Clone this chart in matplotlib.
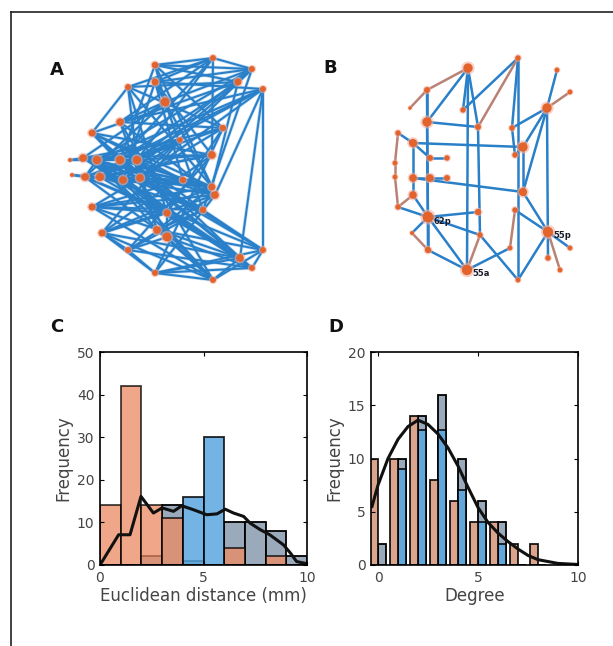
import matplotlib.pyplot as plt
from matplotlib.lines import Line2D
import numpy as np

W, H = 613, 646

# ---- network A (layout coordinates) ----
a_x = [155, 213, 252, 238, 263, 128, 155, 165, 120, 92, 223, 212, 83, 97, 120, 137, 85, 100,
       123, 140, 212, 215, 92, 203, 167, 157, 167, 102, 128, 240, 263, 252, 155, 213, 183, 180, 70, 72]
a_y = [65, 58, 69, 82, 89, 87, 82, 102, 122, 133, 128, 155, 158, 160, 160, 160, 177, 177,
       180, 178, 187, 195, 207, 210, 213, 230, 237, 233, 250, 258, 250, 268, 273, 280, 180, 140, 160, 175]
a_size = [22, 18, 18, 25, 18, 18, 25, 40, 28, 25, 20, 30, 30, 35, 35, 35, 30, 35,
          30, 30, 25, 30, 25, 20, 25, 30, 40, 25, 18, 30, 18, 18, 18, 18, 20, 15, 8, 8]
a_edges = [(0, 1), (0, 2), (0, 3), (0, 7), (0, 10), (0, 14), (0, 20),
           (1, 2), (1, 5), (1, 6), (1, 8), (1, 14), (1, 15), (1, 11),
           (2, 3), (2, 6), (2, 7), (2, 13), (2, 15), (2, 19), (2, 23),
           (3, 5), (3, 9), (3, 14), (3, 18), (3, 20),
           (4, 6), (4, 8), (4, 13), (4, 14), (4, 17), (4, 19), (4, 21), (4, 29), (4, 30),
           (5, 9), (5, 10), (5, 15), (5, 20), (5, 24),
           (6, 7), (6, 11), (6, 18), (6, 34),
           (7, 8), (7, 12), (7, 16), (7, 20), (7, 23),
           (8, 10), (8, 19), (8, 21), (8, 33),
           (9, 11), (9, 14), (9, 20), (9, 24), (9, 31),
           (10, 13), (10, 16), (10, 22), (10, 24), (10, 32),
           (11, 12), (11, 17), (11, 27), (11, 28),
           (12, 13), (12, 14), (12, 15), (12, 19), (12, 20), (12, 23), (12, 34),
           (13, 19), (13, 21), (13, 29), (13, 33),
           (14, 18), (14, 20), (14, 30), (14, 31),
           (15, 16), (15, 21), (15, 23), (15, 25), (15, 29),
           (16, 17), (16, 18), (16, 20), (16, 24), (16, 30), (16, 35),
           (17, 19), (17, 23), (17, 29), (17, 34),
           (18, 21), (18, 24), (18, 31), (18, 33), (18, 35),
           (19, 20), (19, 23), (19, 25), (19, 26), (19, 30),
           (20, 22), (20, 27), (20, 25),
           (21, 22), (21, 27), (21, 28), (21, 32),
           (22, 23), (22, 24), (22, 29), (22, 33),
           (23, 28), (23, 25), (23, 30),
           (24, 26), (24, 29), (24, 31), (24, 27),
           (25, 26), (25, 30), (25, 33),
           (26, 28), (26, 31), (26, 33),
           (27, 28), (27, 29), (27, 32), (27, 33),
           (28, 32), (28, 31), (29, 32), (29, 33),
           (30, 31), (30, 32), (30, 33), (31, 32), (32, 33),
           (34, 16), (34, 9), (34, 22), (35, 12), (35, 17), (35, 27),
           (36, 12), (37, 16), (36, 13), (37, 17),
           (12, 18), (13, 14), (14, 15), (16, 19), (17, 18), (13, 16), (14, 17), (15, 19),
           (12, 24), (13, 25), (16, 26), (17, 11), (18, 20), (15, 11)]

# ---- network B ----
b_x = [468, 518, 427, 557, 570, 547, 410, 463, 427, 478, 512, 398, 413, 523, 430, 447, 515, 395, 395,
       413, 430, 447, 523, 413, 398, 478, 515, 428, 412, 548, 480, 428, 570, 548, 467, 518, 560, 510]
b_y = [68, 58, 90, 70, 92, 108, 108, 110, 122, 127, 128, 133, 143, 147, 158, 158, 155, 163, 177,
       178, 178, 178, 192, 195, 207, 212, 210, 217, 233, 232, 235, 250, 248, 258, 270, 280, 270, 248]
b_size = [45, 15, 18, 12, 12, 45, 6, 15, 45, 18, 15, 15, 35, 45, 18, 15, 15, 12, 12,
          30, 30, 18, 35, 30, 15, 20, 15, 60, 8, 55, 15, 20, 12, 15, 55, 12, 12, 12]
b_edges = [(0, 34), (1, 35), (5, 33), (2, 31), (9, 30), (8, 27),
           (8, 9), (12, 13), (19, 22), (27, 25), (14, 15), (19, 20), (20, 21), (12, 14),
           (11, 12), (23, 24), (11, 17), (17, 18), (18, 24), (12, 19), (19, 23),
           (0, 2), (0, 7), (0, 9), (1, 7), (1, 10), (2, 8), (0, 8), (1, 9),
           (5, 4), (5, 3), (5, 10), (5, 13), (13, 16), (13, 22), (22, 29), (26, 29),
           (29, 32), (29, 36), (29, 35), (5, 22),
           (27, 28), (27, 31), (27, 34), (27, 30), (31, 34), (34, 30), (34, 37),
           (30, 35), (28, 31), (24, 27), (23, 27), (2, 6), (26, 37), (10, 16)]
b_brown = [(0, 2), (11, 17), (17, 18), (18, 24), (28, 31), (29, 36), (1, 9),
           (5, 4), (23, 24), (34, 30), (26, 37), (2, 6)]
b_labels = ['62p', '55p', '55a']
b_label_nodes = [27, 29, 34]

# ---- panel C: euclidean distance histograms ----
dist_edges = np.arange(0, 10)
dist_gray = [0, 0, 2, 14, 1, 0, 10, 10, 8, 2]
dist_orange = [14, 42, 14, 11, 0, 0, 4, 0, 2, 0]
dist_blue = [0, 0, 0, 0, 16, 30, 0, 0, 0, 0]
dist_curve_x = [0, 0.9, 1.45, 1.98, 2.58, 3.0, 3.55, 3.95, 4.5, 5.16, 5.65, 6.05, 6.45, 6.94,
                7.26, 7.74, 8.2, 8.87, 9.2, 9.5, 10]
dist_curve_y = [0, 7.1, 7.1, 16.1, 12.2, 13.4, 12.6, 13.9, 13.0, 11.8, 12.0, 13.1, 12.2, 11.4,
                9.8, 8.3, 7.1, 4.7, 2.8, 0.8, 0.3]

# ---- panel D: degree histograms ----
degree = np.arange(0, 9)
deg_orange = [10, 10, 14, 8, 6, 4, 4, 2, 2]
deg_gray = [2, 10, 14, 16, 10, 6, 4, 0, 0]
deg_blue = [0, 9, 12.7, 12.7, 7, 4, 2, 0, 0]
deg_curve_x = [-0.3, 0, 0.5, 1, 1.5, 2, 2.5, 3, 3.5, 4, 4.5, 5, 5.5, 6, 6.5, 7, 7.5, 8, 9, 10]
deg_curve_y = [5.5, 7.5, 10, 11.8, 13, 13.6, 13.2, 12.3, 11, 9.3, 7.3, 5.4, 4, 3, 2.2, 1.5, 0.9,
               0.5, 0.15, 0.05]

c_orange = '#ec8a62'
c_blue = '#5aa7e0'
c_gray = '#9aaabb'
c_edge = '#2a80c8'
c_node = '#e2632c'
c_brown = '#b98275'
txt = '#444444'

fig = plt.figure(figsize=(W / 100, H / 100), dpi=100)

# frame lines of the figure panel
fig.add_artist(Line2D([11 / W, 11 / W], [0, 1 - 12 / H], color='#222222', lw=1.2))
fig.add_artist(Line2D([11 / W, 1], [1 - 12 / H, 1 - 12 / H], color='#222222', lw=1.2))


def px_axes(x0, y0, x1, y1):
    ax = fig.add_axes([x0 / W, 1 - y1 / H, (x1 - x0) / W, (y1 - y0) / H])
    ax.set_xlim(x0, x1)
    ax.set_ylim(y1, y0)
    ax.axis('off')
    return ax


# A
axA = px_axes(60, 45, 295, 300)
for i, j in a_edges:
    axA.plot([a_x[i], a_x[j]], [a_y[i], a_y[j]], color='#9cc8ee', lw=2.6, alpha=0.5,
             solid_capstyle='round', zorder=1)
for i, j in a_edges:
    axA.plot([a_x[i], a_x[j]], [a_y[i], a_y[j]], color=c_edge, lw=1.5,
             solid_capstyle='round', zorder=1.5)
axA.scatter(a_x, a_y, s=[s * 2.0 for s in a_size], color='#f5b0a0', alpha=0.6, lw=0, zorder=2)
axA.scatter(a_x, a_y, s=a_size, color=c_node, lw=0, zorder=3)

# B
axB = px_axes(370, 45, 605, 300)
for i, j in b_edges:
    col = c_brown if (i, j) in b_brown else c_edge
    axB.plot([b_x[i], b_x[j]], [b_y[i], b_y[j]], color=col, lw=1.8, zorder=1,
             solid_capstyle='round')
axB.scatter(b_x, b_y, s=[s * 2.0 for s in b_size], color='#f5b0a0', alpha=0.6, lw=0, zorder=2)
axB.scatter(b_x, b_y, s=b_size, color=c_node, lw=0, zorder=3)
for lab, n in zip(b_labels, b_label_nodes):
    axB.text(b_x[n] + 5, b_y[n] + 4, lab, fontsize=6, fontweight='bold', color='#1a1a2a',
             va='center', zorder=4)


def style(ax):
    ax.tick_params(direction='in', top=True, right=True, labelsize=10, labelcolor=txt,
                   length=3, width=0.8, pad=4)
    for s in ax.spines.values():
        s.set_linewidth(1.2)


# C
axC = fig.add_axes([100 / W, 1 - 565 / H, 207 / W, 213 / H])
axC.bar(dist_edges, dist_gray, width=1, align='edge', color=c_gray, edgecolor='k', lw=1.3)
axC.bar(dist_edges, dist_orange, width=1, align='edge', color=c_orange, alpha=0.75,
        edgecolor='k', lw=1.3)
axC.bar(dist_edges, dist_blue, width=1, align='edge', color=c_blue, alpha=0.85,
        edgecolor='k', lw=1.3)
axC.plot(dist_curve_x, dist_curve_y, color='#111111', lw=2.2)
axC.set_xlim(0, 10)
axC.set_ylim(0, 50)
axC.set_xticks([0, 5, 10])
axC.set_yticks([0, 10, 20, 30, 40, 50])
style(axC)
axC.set_xlabel('Euclidean distance (mm)', fontsize=12, color=txt, labelpad=2)
axC.set_ylabel('Frequency', fontsize=12, color=txt, labelpad=3)

# D
axD = fig.add_axes([371 / W, 1 - 565 / H, 207 / W, 213 / H])
axD.bar(degree + 0.2, deg_gray, width=0.4, color=c_gray, edgecolor='k', lw=1.3)
axD.bar(degree + 0.2, deg_blue, width=0.4, color=c_blue, alpha=0.85, edgecolor='k', lw=1.3)
axD.bar(degree - 0.2, deg_orange, width=0.4, color='#d89a80', alpha=0.9, edgecolor='k', lw=1.3)
axD.plot(deg_curve_x, deg_curve_y, color='#111111', lw=2.2)
axD.set_xlim(-0.35, 10)
axD.set_ylim(0, 20)
axD.set_xticks([0, 5, 10])
axD.set_yticks([0, 5, 10, 15, 20])
style(axD)
axD.set_xlabel('Degree', fontsize=12, color=txt, labelpad=2)
axD.set_ylabel('Frequency', fontsize=12, color=txt, labelpad=3)

for lab, x, y in [('A', 50, 70), ('B', 323, 68), ('C', 50, 327), ('D', 328, 327)]:
    fig.text(x / W, 1 - y / H, lab, fontsize=13, fontweight='bold', color='#111111',
             va='center', ha='left')

fig.savefig('out.png', dpi=100)
